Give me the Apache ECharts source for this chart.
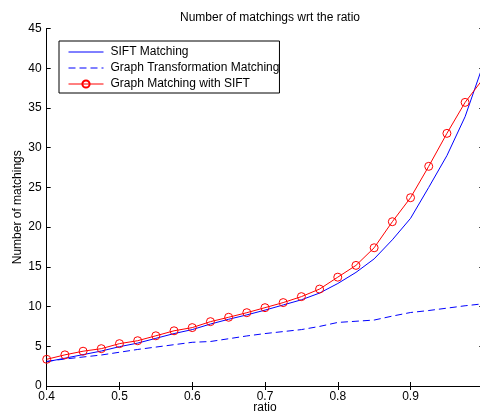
<!DOCTYPE html>
<html>
<head>
<meta charset="utf-8">
<script src="https://cdn.jsdelivr.net/npm/echarts@6/dist/echarts.min.js"></script>
<style>
html,body{margin:0;padding:0;background:#fff;}
#chart{width:480px;height:414px;}
</style>
</head>
<body>
<div id="chart"></div>
<script>
const ratios = [0.4,0.425,0.45,0.475,0.5,0.525,0.55,0.575,0.6,0.625,0.65,0.675,0.7,0.725,0.75,0.775,0.8,0.825,0.85,0.875,0.9,0.925,0.95,0.975,1.0];
const siftMatching = [3.05,3.5,3.95,4.4,4.95,5.4,6.0,6.6,7.1,7.8,8.4,8.95,9.55,10.2,10.85,11.7,12.9,14.3,16.0,18.4,21.1,25.0,29.0,33.9,40.5];
const graphTransformationMatching = [3.1,3.4,3.65,3.9,4.25,4.6,4.9,5.2,5.5,5.6,5.95,6.3,6.6,6.85,7.1,7.5,8.0,8.15,8.3,8.8,9.25,9.5,9.8,10.1,10.35];
const graphMatchingSift = [3.36,3.92,4.38,4.7,5.33,5.7,6.32,6.95,7.35,8.1,8.65,9.23,9.86,10.5,11.25,12.2,13.7,15.18,17.4,20.68,23.7,27.65,31.8,35.7,38.7];
const xTickLabels = ['0.4','0.5','0.6','0.7','0.8','0.9'];
const yTickLabels = ['0','5','10','15','20','25','30','35','40','45'];
const seriesNames = ['SIFT Matching','Graph Transformation Matching','Graph Matching with SIFT'];

const font = 'Liberation Sans, Arial, Helvetica, sans-serif';
const fs = 12;
const pairs = (ys) => ratios.map((x,i) => [x, ys[i]]);

const chart = echarts.init(document.getElementById('chart'), null, {renderer:'canvas'});
const grid = {left:46.7, top:28.5, width:436.6, height:357.5, outerBoundsMode:'none', containLabel:false};
const xLabelFmt = v => { const s = v.toFixed(1); return xTickLabels.indexOf(s) >= 0 ? s : ''; };
const yLabelFmt = v => { const s = String(Math.round(v)); return yTickLabels.indexOf(s) >= 0 ? s : ''; };

const redData = pairs(graphMatchingSift).map((p,i) => i === ratios.length-1 ? {value:p, symbolSize:0} : p);
const hollow = 'rgba(255,255,255,0)';

chart.setOption({
  animation:false,
  backgroundColor:'#fff',
  textStyle:{fontFamily:font},
  title:{
    text:'Number of matchings wrt the ratio',
    left:265, top:7, textAlign:'center',
    textStyle:{fontSize:fs, fontWeight:'normal', color:'#000', fontFamily:font}
  },
  grid:grid,
  legend:{
    orient:'vertical', left:59, top:41,
    data:[
      {name:seriesNames[0], itemStyle:{opacity:0}, lineStyle:{color:'#0000ff', width:1, type:'solid'}},
      {name:seriesNames[1], itemStyle:{opacity:0}, lineStyle:{color:'#0000ff', width:1, type:[7,4]}},
      {name:seriesNames[2], lineStyle:{color:'#ff0000', width:1, type:'solid'}}
    ],
    itemWidth:35, itemHeight:9, itemGap:4,
    padding:[5,0,3,9],
    borderColor:'#000', borderWidth:1,
    backgroundColor:'#fff',
    lineStyle:{width:1},
    textStyle:{fontSize:fs, color:'#000', fontFamily:font, padding:[0,0,0,2]}
  },
  xAxis:[{
    type:'value', min:0.4, max:1.0, interval:0.1, position:'bottom',
    name:'ratio', nameLocation:'middle', nameGap:16, nameMoveOverlap:false,
    nameTextStyle:{fontSize:fs, color:'#000', fontFamily:font},
    axisLine:{lineStyle:{color:'#000', width:1}},
    axisTick:{inside:true, length:4, lineStyle:{color:'#000'}},
    axisLabel:{formatter:xLabelFmt, fontSize:fs, color:'#000', margin:5, fontFamily:font},
    splitLine:{show:false}
  },{
    type:'value', min:0.4, max:1.0, interval:0.1, position:'top',
    axisLine:{lineStyle:{color:'#000', width:1}},
    axisTick:{inside:true, length:4, lineStyle:{color:'#000'}},
    axisLabel:{show:false}, splitLine:{show:false}
  }],
  yAxis:[{
    type:'value', min:0, max:45, interval:5, position:'left',
    name:'Number of matchings', nameLocation:'middle', nameGap:23, nameMoveOverlap:false,
    nameTextStyle:{fontSize:fs, color:'#000', fontFamily:font},
    axisLine:{show:true, lineStyle:{color:'#000', width:1}},
    axisTick:{show:true, inside:true, length:4, lineStyle:{color:'#000'}},
    axisLabel:{formatter:yLabelFmt, fontSize:fs, color:'#000', margin:5, fontFamily:font},
    splitLine:{show:false}
  },{
    type:'value', min:0, max:45, interval:5, position:'right',
    axisLine:{show:true, lineStyle:{color:'#000', width:1}},
    axisTick:{show:true, inside:true, length:4, lineStyle:{color:'#000'}},
    axisLabel:{show:false}, splitLine:{show:false}
  }],
  series:[
    {name:seriesNames[0], type:'line', data:pairs(siftMatching), symbol:'none',
     lineStyle:{color:'#0000ff', width:1}, itemStyle:{color:'#0000ff'}},
    {name:seriesNames[1], type:'line', data:pairs(graphTransformationMatching), symbol:'none',
     lineStyle:{color:'#0000ff', width:1, type:[7,4]}, itemStyle:{color:'#0000ff'}},
    {name:seriesNames[2], type:'line', data:redData, symbol:'circle', symbolSize:8,
     lineStyle:{color:'#ff0000', width:1}, itemStyle:{color:hollow, borderColor:'#ff0000', borderWidth:1}}
  ]
});
</script>
</body>
</html>
